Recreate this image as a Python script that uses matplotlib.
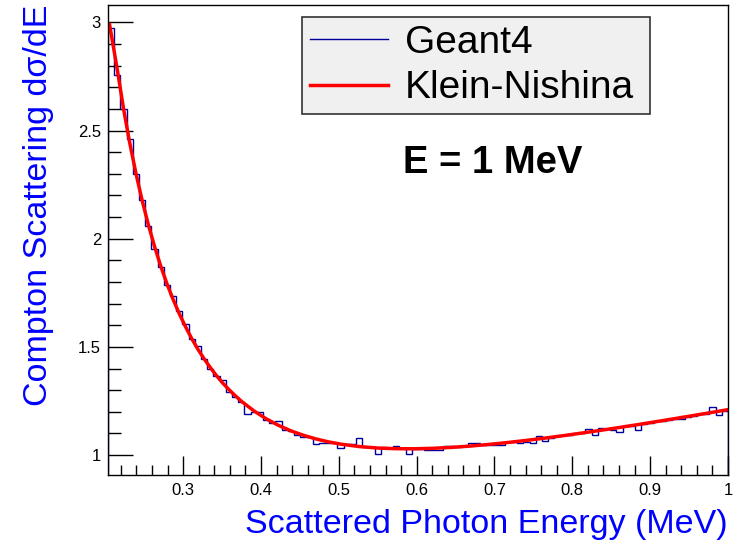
import numpy as np
import matplotlib
matplotlib.use("Agg")
import matplotlib.pyplot as plt
from matplotlib.ticker import MultipleLocator

plt.rcParams['font.family'] = ['Liberation Sans', 'DejaVu Sans']

# Geant4 histogram: 100 bins between the Compton edge and the beam energy
e_min = 0.2035
e_max = 1.0
geant4 = [
    2.975, 2.755, 2.598, 2.462, 2.300, 2.179, 2.057, 1.953, 1.871, 1.784,
    1.737, 1.665, 1.606, 1.538, 1.505, 1.446, 1.400, 1.364, 1.345, 1.292,
    1.268, 1.245, 1.190, 1.199, 1.199, 1.160, 1.147, 1.158, 1.116, 1.110,
    1.092, 1.085, 1.083, 1.049, 1.057, 1.057, 1.057, 1.034, 1.049, 1.049,
    1.080, 1.038, 1.038, 1.005, 1.036, 1.035, 1.040, 1.033, 1.003, 1.030,
    1.027, 1.025, 1.023, 1.025, 1.043, 1.043, 1.038, 1.040, 1.054, 1.055,
    1.047, 1.045, 1.045, 1.046, 1.060, 1.062, 1.054, 1.061, 1.054, 1.089,
    1.064, 1.080, 1.090, 1.095, 1.095, 1.100, 1.103, 1.120, 1.092, 1.123,
    1.120, 1.115, 1.107, 1.135, 1.135, 1.115, 1.145, 1.148, 1.158, 1.158,
    1.163, 1.166, 1.168, 1.175, 1.181, 1.190, 1.192, 1.220, 1.186, 1.205,
]

# Klein-Nishina curve
kn_e = [0.2055, 0.2155, 0.2235, 0.2314, 0.2394, 0.2474, 0.2553, 0.2633, 0.2712,
        0.2792, 0.2872, 0.2951, 0.3031, 0.3111, 0.3190, 0.3270, 0.3350, 0.3429,
        0.3509, 0.3588, 0.3668, 0.3748, 0.3907, 0.4066, 0.4225, 0.4385, 0.4544,
        0.4703, 0.4863, 0.5022, 0.5261, 0.5500, 0.5738, 0.5977, 0.6216, 0.6455,
        0.6694, 0.6933, 0.7172, 0.7411, 0.7650, 0.7889, 0.8127, 0.8366, 0.8605,
        0.8844, 0.9083, 0.9322, 0.9561, 0.9800, 0.9959, 1.0]
kn_val = [2.99, 2.78, 2.60, 2.443, 2.302, 2.176, 2.065, 1.964, 1.874,
          1.792, 1.719, 1.653, 1.593, 1.538, 1.489, 1.445, 1.404, 1.367,
          1.333, 1.303, 1.275, 1.249, 1.205, 1.168, 1.1375, 1.112, 1.0917,
          1.075, 1.0614, 1.0508, 1.0395, 1.0326, 1.0295, 1.0292, 1.0315, 1.0358,
          1.0419, 1.0495, 1.0582, 1.068, 1.0786, 1.090, 1.102, 1.1146, 1.1276,
          1.141, 1.1548, 1.1689, 1.1832, 1.1977, 1.2075, 1.21]

x_ticks = [0.3, 0.4, 0.5, 0.6, 0.7, 0.8, 0.9, 1.0]
x_ticklabels = ['0.3', '0.4', '0.5', '0.6', '0.7', '0.8', '0.9', '1']
y_ticks = [1, 1.5, 2, 2.5, 3]
y_ticklabels = ['1', '1.5', '2', '2.5', '3']

fig = plt.figure(figsize=(7.43, 5.48), dpi=100)
ax = fig.add_axes([108/743, 1-475/548, 620/743, 470/548])

edges = np.linspace(e_min, e_max, len(geant4) + 1)
ax.stairs(geant4, edges, color='#000099', lw=1, label='Geant4')
ax.plot(kn_e, kn_val, color='#ff0000', lw=2.5, label='Klein-Nishina')

ax.set_xlim(e_min, e_max)
ax.set_ylim(0.908, 3.08)

ax.set_xticks(x_ticks)
ax.set_xticklabels(x_ticklabels)
ax.set_yticks(y_ticks)
ax.set_yticklabels(y_ticklabels)
ax.xaxis.set_minor_locator(MultipleLocator(0.02))
ax.yaxis.set_minor_locator(MultipleLocator(0.1))
ax.tick_params(axis='x', which='major', direction='in', length=14, width=1, labelsize=12, pad=6)
ax.tick_params(axis='x', which='minor', direction='in', length=7, width=1)
ax.tick_params(axis='y', which='major', direction='in', length=18, width=1, labelsize=12, pad=5)
ax.tick_params(axis='y', which='minor', direction='in', length=9, width=1)
for s in ax.spines.values():
    s.set_linewidth(1)

ax.set_xlabel('Scattered Photon Energy (MeV)', color='#0000ff', fontsize=24.5, loc='right')
ax.xaxis.set_label_coords(1.0, -0.072)
ax.set_ylabel('Compton Scattering d\u03c3/dE', color='#0000ff', fontsize=24.5, loc='top')
ax.yaxis.set_label_coords(-0.087, 1.0)

leg = ax.legend(loc='upper left', bbox_to_anchor=(302/743, 1-114/548, 348/743, 97/548),
                bbox_transform=fig.transFigure, mode='expand', fontsize=28,
                frameon=True, fancybox=False, borderaxespad=0, borderpad=0.2,
                handlelength=2.0, handletextpad=0.44, labelspacing=0.24)
leg.get_frame().set_facecolor('#f0f0f0')
leg.get_frame().set_edgecolor('#333333')
leg.get_frame().set_linewidth(1.2)
leg.get_frame().set_alpha(1)

ax.text(0.621, 0.664, 'E = 1 MeV', transform=ax.transAxes, fontsize=27.5,
        fontweight='bold', ha='center', va='center')

fig.savefig('out.png', dpi=100)
